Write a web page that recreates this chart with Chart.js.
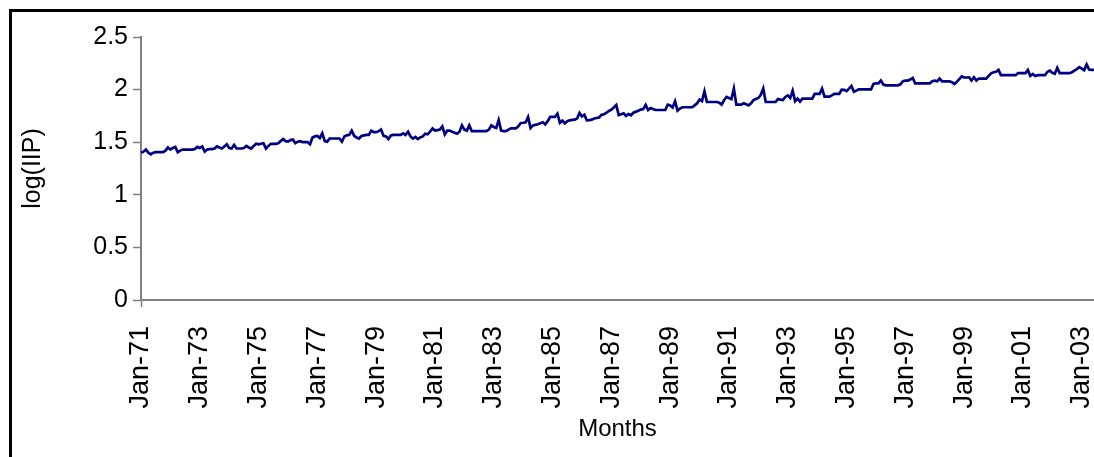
<!DOCTYPE html>
<html>
<head>
<meta charset="utf-8">
<title>log(IIP)</title>
<script src="https://cdn.jsdelivr.net/npm/chart.js@4.4.1/dist/chart.umd.min.js"></script>
<style>
  html, body { margin: 0; padding: 0; background: #fff; overflow: hidden; }
  #chartBox { position: absolute; left: 0; top: 0; width: 1094px; height: 457px; }
</style>
</head>
<body>
<div id="chartBox"><canvas id="iipChart" width="1094" height="457"></canvas></div>
<script>
// monthly log(IIP), Jan-71 .. Jun-03
const iip1971to1976 = [
  1.40, 1.41, 1.43, 1.40, 1.385, 1.40, 1.405, 1.405, 1.405, 1.405, 1.42, 1.45,
  1.43, 1.445, 1.455, 1.405, 1.42, 1.43, 1.43, 1.43, 1.43, 1.43, 1.435, 1.455,
  1.445, 1.46, 1.41, 1.43, 1.435, 1.435, 1.44, 1.46, 1.45, 1.44, 1.46, 1.48,
  1.445, 1.44, 1.475, 1.44, 1.44, 1.44, 1.445, 1.465, 1.45, 1.44, 1.465, 1.485,
  1.48, 1.485, 1.49, 1.44, 1.465, 1.485, 1.485, 1.485, 1.49, 1.51, 1.53, 1.51,
  1.505, 1.52, 1.525, 1.49, 1.505, 1.51, 1.50, 1.50, 1.50, 1.48, 1.545, 1.555
];
const iip1977to1982 = [
  1.56, 1.54, 1.585, 1.51, 1.505, 1.535, 1.535, 1.535, 1.535, 1.535, 1.505, 1.555,
  1.565, 1.57, 1.61, 1.56, 1.545, 1.535, 1.56, 1.565, 1.57, 1.57, 1.61, 1.595,
  1.595, 1.605, 1.62, 1.56, 1.555, 1.53, 1.565, 1.57, 1.57, 1.57, 1.57, 1.585,
  1.57, 1.60, 1.555, 1.535, 1.55, 1.53, 1.545, 1.555, 1.58, 1.575, 1.60, 1.63,
  1.61, 1.615, 1.62, 1.65, 1.575, 1.61, 1.61, 1.60, 1.59, 1.58, 1.60, 1.66,
  1.62, 1.61, 1.66, 1.606, 1.606, 1.606, 1.606, 1.606, 1.606, 1.606, 1.62, 1.66
];
const iip1983to1988 = [
  1.645, 1.635, 1.71, 1.61, 1.606, 1.606, 1.62, 1.632, 1.632, 1.632, 1.65, 1.683,
  1.685, 1.69, 1.74, 1.635, 1.66, 1.665, 1.67, 1.68, 1.689, 1.67, 1.70, 1.74,
  1.74, 1.74, 1.77, 1.685, 1.705, 1.68, 1.70, 1.708, 1.712, 1.714, 1.725, 1.778,
  1.745, 1.76, 1.708, 1.71, 1.714, 1.725, 1.73, 1.735, 1.76, 1.765, 1.78, 1.797,
  1.81, 1.83, 1.854, 1.758, 1.765, 1.775, 1.75, 1.768, 1.756, 1.78, 1.79, 1.80,
  1.81, 1.815, 1.855, 1.806, 1.825, 1.815, 1.806, 1.806, 1.806, 1.806, 1.806, 1.857
];
const iip1989to1994 = [
  1.85, 1.83, 1.889, 1.80, 1.82, 1.832, 1.832, 1.832, 1.832, 1.832, 1.85, 1.87,
  1.905, 1.89, 1.984, 1.882, 1.882, 1.882, 1.882, 1.882, 1.875, 1.857, 1.90, 1.93,
  1.92, 1.91, 2.01, 1.857, 1.857, 1.857, 1.87, 1.86, 1.85, 1.87, 1.90, 1.91,
  1.92, 1.95, 2.01, 1.882, 1.882, 1.882, 1.882, 1.882, 1.91, 1.905, 1.90, 1.93,
  1.945, 1.92, 1.99, 1.89, 1.914, 1.885, 1.914, 1.914, 1.914, 1.914, 1.914, 1.96,
  1.96, 1.96, 2.01, 1.933, 1.933, 1.933, 1.945, 1.959, 1.959, 1.96, 2.00, 1.997
];
const iip1995to2000 = [
  1.985, 2.01, 2.035, 1.98, 1.99, 2.003, 2.003, 2.003, 2.003, 2.003, 2.003, 2.055,
  2.06, 2.06, 2.086, 2.048, 2.041, 2.041, 2.041, 2.041, 2.041, 2.041, 2.05, 2.08,
  2.085, 2.086, 2.095, 2.111, 2.06, 2.06, 2.06, 2.06, 2.06, 2.06, 2.06, 2.08,
  2.085, 2.079, 2.105, 2.079, 2.079, 2.079, 2.079, 2.07, 2.054, 2.075, 2.10, 2.125,
  2.115, 2.115, 2.117, 2.086, 2.117, 2.086, 2.105, 2.105, 2.105, 2.105, 2.13, 2.155,
  2.165, 2.17, 2.187, 2.137, 2.137, 2.137, 2.137, 2.137, 2.137, 2.137, 2.156, 2.156
];
const iip2001to2003 = [
  2.156, 2.156, 2.187, 2.13, 2.149, 2.13, 2.137, 2.137, 2.137, 2.137, 2.17, 2.18,
  2.16, 2.15, 2.206, 2.156, 2.156, 2.156, 2.156, 2.156, 2.165, 2.18, 2.195, 2.213,
  2.20, 2.185, 2.238, 2.19, 2.187, 2.187
];

const logIIP = [].concat(iip1971to1976, iip1977to1982, iip1983to1988,
  iip1989to1994, iip1995to2000, iip2001to2003);

// category labels: one per month
const monthNames = ['Jan', 'Feb', 'Mar', 'Apr', 'May', 'Jun',
                    'Jul', 'Aug', 'Sep', 'Oct', 'Nov', 'Dec'];
const months = [];
for (let y = 1971; months.length < logIIP.length; y++) {
  for (let m = 0; m < 12 && months.length < logIIP.length; m++) {
    months.push(monthNames[m] + '-' + String(y % 100).padStart(2, '0'));
  }
}

// only every second January is labelled on the axis
const xTickLabels = ['Jan-71', 'Jan-73', 'Jan-75', 'Jan-77', 'Jan-79', 'Jan-81',
  'Jan-83', 'Jan-85', 'Jan-87', 'Jan-89', 'Jan-91', 'Jan-93', 'Jan-95',
  'Jan-97', 'Jan-99', 'Jan-01', 'Jan-03'];
const yTicks = [0, 0.5, 1, 1.5, 2, 2.5];

const FONT = 'Liberation Sans, Arial, sans-serif';
const AXIS_GREY = '#808080';

function isLabelled(idx) {
  return xTickLabels.includes(months[idx]);
}

// black frame round the chart (only its top and left edges are in view)
const framePlugin = {
  id: 'frame',
  beforeDraw(chart) {
    const c = chart.ctx;
    c.save();
    c.strokeStyle = '#000';
    c.lineWidth = 3;
    c.beginPath();
    c.moveTo(10.5, chart.height);
    c.lineTo(10.5, 10.5);
    c.lineTo(chart.width, 10.5);
    c.stroke();
    c.restore();
  }
};

const ctx = document.getElementById('iipChart').getContext('2d');
new Chart(ctx, {
  type: 'line',
  data: {
    labels: months,
    datasets: [{
      label: 'log(IIP)',
      data: logIIP,
      borderColor: '#000080',
      borderWidth: 2.7,
      pointRadius: 0,
      tension: 0,
      fill: false
    }]
  },
  options: {
    responsive: false,
    animation: false,
    events: [],
    layout: { padding: { left: 12, top: 37, right: 0, bottom: 5 } },
    plugins: {
      legend: { display: false },
      tooltip: { enabled: false }
    },
    scales: {
      x: {
        type: 'category',
        offset: false,
        afterFit: (scale) => {
          scale.height = 152;
          scale.paddingLeft = 0;
          scale.paddingRight = 0;
        },
        border: { display: true, color: AXIS_GREY, width: 2 },
        grid: {
          drawOnChartArea: false,
          drawTicks: true,
          tickLength: 7,
          tickWidth: 1.5,
          tickColor: (c) => isLabelled(c.index) ? AXIS_GREY : 'rgba(0,0,0,0)'
        },
        ticks: {
          autoSkip: false,
          minRotation: 90,
          maxRotation: 90,
          padding: 19,
          color: '#000',
          font: { family: FONT, size: 27 },
          callback: (val, idx) => isLabelled(idx) ? months[idx] : null
        },
        title: {
          display: true,
          text: 'Months',
          color: '#000',
          font: { family: FONT, size: 24 },
          padding: { top: 0, bottom: 8 }
        }
      },
      y: {
        min: 0,
        max: 2.5,
        afterFit: (scale) => { scale.width = 129; },
        afterBuildTicks: (scale) => { scale.ticks = yTicks.map(v => ({ value: v })); },
        border: { display: true, color: AXIS_GREY, width: 2 },
        grid: {
          drawOnChartArea: false,
          drawTicks: true,
          tickLength: 8,
          tickWidth: 1.5,
          tickColor: AXIS_GREY
        },
        ticks: {
          padding: 5,
          color: '#000',
          font: { family: FONT, size: 25 },
          callback: (v) => String(v)
        },
        title: {
          display: true,
          text: 'log(IIP)',
          color: '#000',
          font: { family: FONT, size: 25 },
          padding: { top: 6, bottom: 0 }
        }
      }
    }
  },
  plugins: [framePlugin]
});
</script>
</body>
</html>
